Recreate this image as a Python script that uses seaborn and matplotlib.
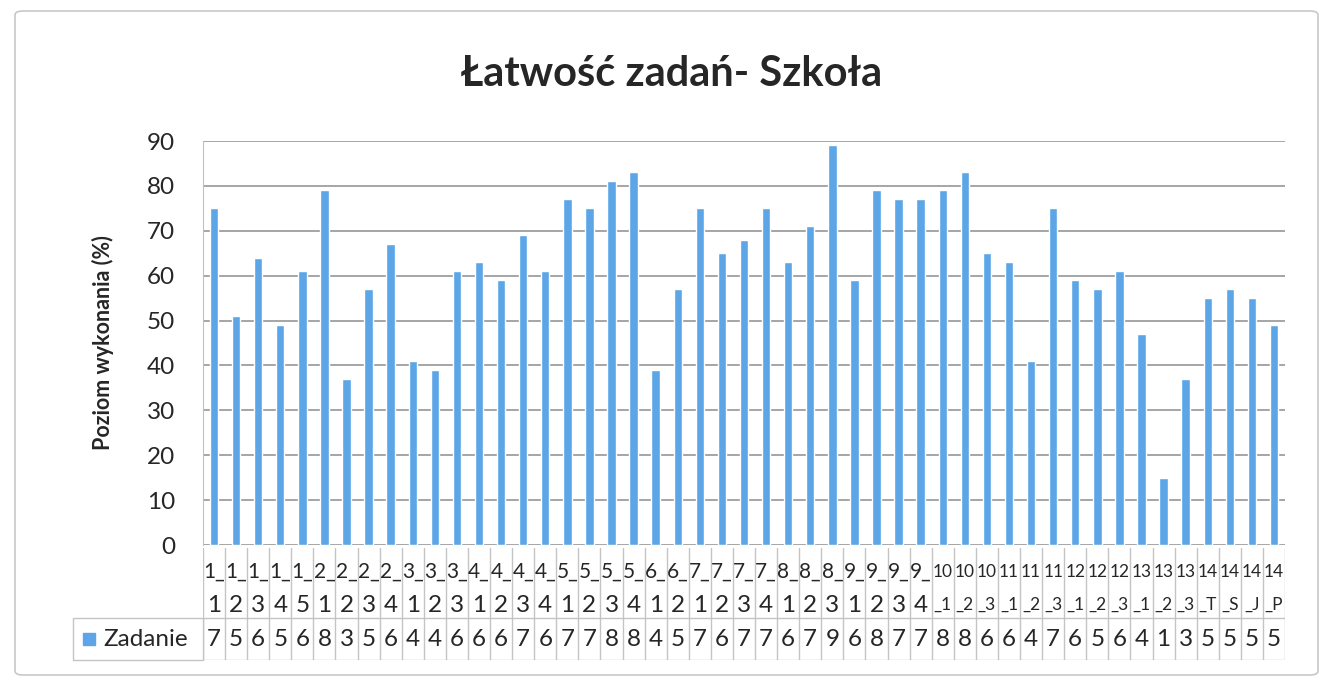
import pandas as pd
import matplotlib.pyplot as plt
import seaborn as sns
from matplotlib.patches import FancyBboxPatch, Rectangle

# categories (tasks) and values
zadania = ['1_1', '1_2', '1_3', '1_4', '1_5', '2_1', '2_2', '2_3', '2_4',
           '3_1', '3_2', '3_3', '4_1', '4_2', '4_3', '4_4', '5_1', '5_2', '5_3', '5_4',
           '6_1', '6_2', '7_1', '7_2', '7_3', '7_4', '8_1', '8_2', '8_3',
           '9_1', '9_2', '9_3', '9_4', '10_1', '10_2', '10_3', '11_1', '11_2', '11_3',
           '12_1', '12_2', '12_3', '13_1', '13_2', '13_3', '14_T', '14_S', '14_J', '14_P']
poziom = [75, 51, 64, 49, 61, 79, 37, 57, 67, 41, 39, 61, 63, 59, 69, 61, 77, 75, 81, 83,
          39, 57, 75, 65, 68, 75, 63, 71, 89, 59, 79, 77, 77, 79, 83, 65, 63, 41, 75,
          59, 57, 61, 47, 15, 37, 55, 57, 55, 49]
# what the data table row shows (narrow cells)
tabela = ['7', '5', '6', '5', '6', '8', '3', '5', '6', '4', '4', '6', '6', '6', '7', '6', '7',
          '7', '8', '8', '4', '5', '7', '6', '7', '7', '6', '7', '9', '6', '8', '7', '7',
          '8', '8', '6', '6', '4', '7', '6', '5', '6', '4', '1', '3', '5', '5', '5', '5']
y_ticks = [0, 10, 20, 30, 40, 50, 60, 70, 80, 90]

df = pd.DataFrame({'Zadanie': zadania, 'Poziom': poziom})

sns.set_style('white')
plt.rcParams['font.family'] = ['Lato', 'DejaVu Sans']

blue = '#5CA6E7'
txt = '#262626'
grid = '#9e9e9e'
fs = 17.5

W, H = 1326, 686
fig = plt.figure(figsize=(W / 100, H / 100), dpi=100)

# chart frame
fig.patches.append(FancyBboxPatch((15 / W, 11 / H), 1303 / W, 664 / H,
                                  boxstyle='round,pad=0,rounding_size=0.006',
                                  transform=fig.transFigure, fill=False,
                                  edgecolor='#c8c8c8', linewidth=1.2))

ax = fig.add_axes([203 / W, 1 - 545 / H, (1285 - 203) / W, (545 - 141) / H])
sns.barplot(data=df, x='Zadanie', y='Poziom', order=zadania, color=blue,
            width=0.38, saturation=1, ax=ax)
ax.set_ylim(0, 90)
ax.set_xlim(-0.5, len(zadania) - 0.5)
ax.set_yticks(y_ticks)
ax.set_yticklabels([str(t) for t in y_ticks], fontsize=fs, color=txt)
ax.tick_params(axis='y', length=0, pad=20)
ax.set_xticks([])
ax.set_xlabel('')
ax.set_ylabel('Poziom wykonania (%)', fontsize=15.5, fontweight='bold', color=txt, labelpad=24)
for t in y_ticks:
    ax.axhline(t, color=grid, lw=1.3, zorder=0)
for s in ['top', 'right', 'bottom']:
    ax.spines[s].set_visible(False)
ax.spines['left'].set_color('#c0c0c0')

fig.text(672 / W, 1 - 74 / H, 'Łatwość zadań- Szkoła', ha='center', va='center',
         fontsize=30, fontweight='bold', color=txt)

# data table under the chart
tab = fig.add_axes([203 / W, 1 - 660 / H, (1285 - 203) / W, (660 - 548) / H])
tab.set_xlim(-0.5, len(zadania) - 0.5)
tab.set_ylim(0, 112)
tab.axis('off')
line_kw = dict(color='#c4c4c4', lw=1)
for i in range(len(zadania) + 1):
    tab.plot([i - 0.5, i - 0.5], [0, 112], **line_kw)
tab.plot([-0.5, len(zadania) - 0.5], [42, 42], **line_kw)
tab.plot([-0.5, len(zadania) - 0.5], [0, 0], **line_kw)
for i, (z, v) in enumerate(zip(zadania, tabela)):
    # narrow cells: the wrapped label is squeezed, two-digit numbers even more
    small = 12.5 if len(z) > 3 else 15
    tab.text(i, 88, z[:2], ha='center', va='center', fontsize=small, color=txt)
    tab.text(i, 55, z[2:], ha='center', va='center', fontsize=small if len(z) > 3 else fs,
             color=txt)
    tab.text(i, 21, v, ha='center', va='center', fontsize=fs, color=txt)

# legend key cell of the table
fig.patches.append(Rectangle((73 / W, 1 - 660 / H), 130 / W, 42 / H,
                             transform=fig.transFigure, fill=False,
                             edgecolor='#c4c4c4', linewidth=1))
fig.patches.append(Rectangle((83 / W, 1 - 645 / H), 12 / W, 12 / H,
                             transform=fig.transFigure, color=blue))
fig.text(103 / W, 1 - 639 / H, 'Zadanie', ha='left', va='center', fontsize=fs, color=txt)

fig.savefig('out.png', dpi=100)
